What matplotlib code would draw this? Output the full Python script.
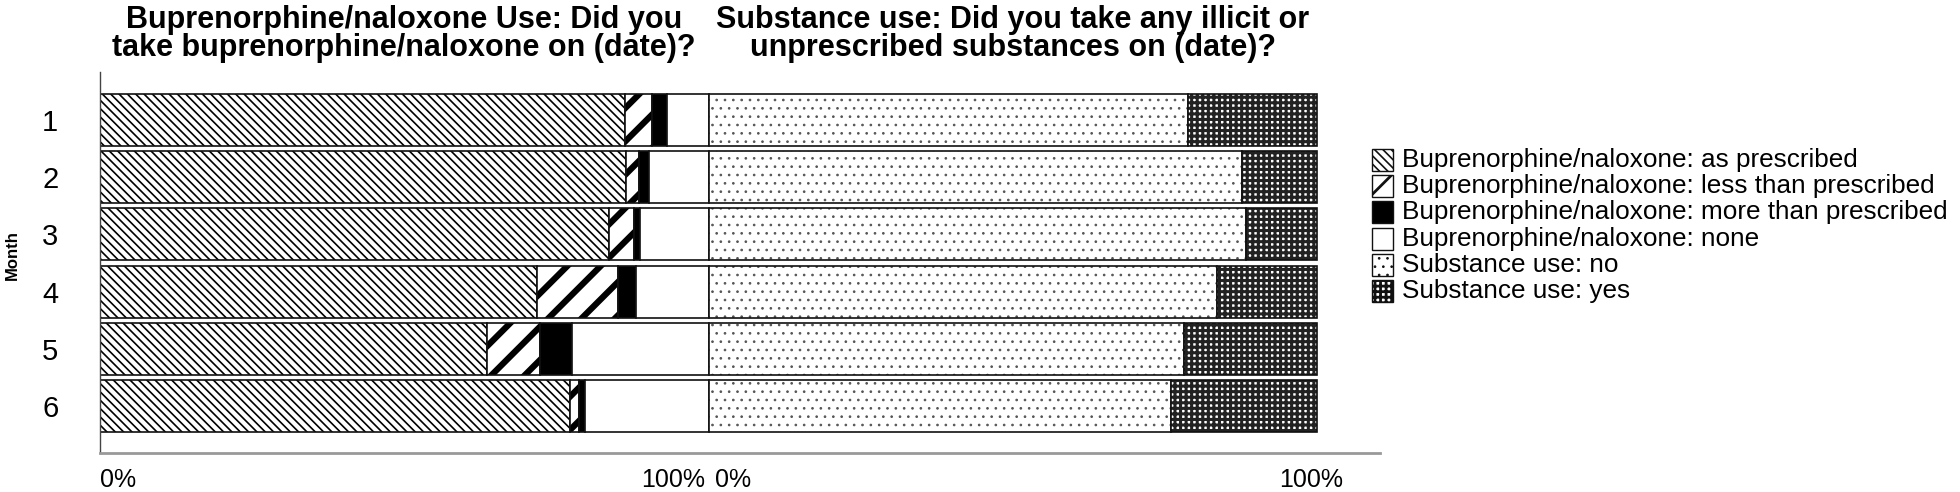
"""Stacked horizontal bars: buprenorphine/naloxone use and substance use by month."""

import matplotlib

matplotlib.use("Agg")
import matplotlib.pyplot as plt
import numpy as np
from matplotlib.patches import Rectangle
from matplotlib.transforms import blended_transform_factory

months = ["1", "2", "3", "4", "5", "6"]

# buprenorphine/naloxone use, % of answers per month
bup_as_prescribed = [86.3, 86.5, 83.6, 71.8, 63.6, 77.2]
bup_less = [4.4, 2.0, 4.2, 13.3, 8.7, 1.5]
bup_more = [2.5, 1.7, 0.9, 3.0, 5.2, 1.0]
bup_none = [6.8, 9.8, 11.3, 11.9, 22.5, 20.3]

# illicit / unprescribed substance use, % of answers per month
sub_no = [78.8, 87.7, 88.3, 83.6, 78.2, 76.0]
sub_yes = [21.2, 12.3, 11.7, 16.4, 21.8, 24.0]

bup_labels = [
    "Buprenorphine/naloxone: as prescribed",
    "Buprenorphine/naloxone: less than prescribed",
    "Buprenorphine/naloxone: more than prescribed",
    "Buprenorphine/naloxone: none",
]
sub_labels = ["Substance use: no", "Substance use: yes"]

titles = [
    "Buprenorphine/naloxone Use: Did you\ntake buprenorphine/naloxone on (date)?",
    "Substance use: Did you take any illicit or\nunprescribed substances on (date)?",
]

# (facecolor, hatch, hatch colour, hatch linewidth)
styles = [
    ("white", "\\\\\\\\", "black", 1.2),
    ("white", "/", "black", 4.5),
    ("black", "", "black", 1.0),
    ("white", "", "black", 1.0),
    ("white", "..", "#555555", 0.7),
    ("white", "+++", "#222222", 2.2),
]

plt.rcParams["font.family"] = ["Liberation Sans", "DejaVu Sans"]

W, H = 1960, 492
fig = plt.figure(figsize=(W / 100, H / 100), dpi=100)
ax = fig.add_axes([100 / W, 1 - 453 / H, 1280 / W, 381 / H])

y = np.arange(1, len(months) + 1)
bar_h = 0.91


def add_patch_hatch(patch, hlw):
    if hasattr(patch, "set_hatch_linewidth"):
        patch.set_hatch_linewidth(hlw)


def draw_stack(series, style_list, start):
    left = np.full(len(months), start, dtype=float)
    for values, (fc, hatch, hc, hlw) in zip(series, style_list):
        w = np.asarray(values) / 100.0
        with plt.rc_context({"hatch.linewidth": hlw, "hatch.color": hc}):
            bars = ax.barh(y, w, left=left, height=bar_h, color=fc,
                           edgecolor=hc, linewidth=0, hatch=hatch or None)
            for b in bars:
                add_patch_hatch(b, hlw)
        ax.barh(y, w, left=left, height=bar_h, fill=False,
                edgecolor="#111111", linewidth=1.2)
        left += w


draw_stack([bup_as_prescribed, bup_less, bup_more, bup_none], styles[:4], 0.0)
draw_stack([sub_no, sub_yes], styles[4:], 1.0)

ax.set_xlim(0, 1280 / 608.5)
ax.set_ylim(6.82, 0.16)
ax.set_yticks(y, months)
ax.tick_params(axis="y", length=0, pad=30, labelsize=21)
ax.set_xticks([])
for side in ("top", "right"):
    ax.spines[side].set_visible(False)
ax.spines["left"].set_color("#444444")
ax.spines["left"].set_linewidth(1.0)
ax.spines["bottom"].set_color("#999999")
ax.spines["bottom"].set_linewidth(2.0)

trans = blended_transform_factory(ax.transData, ax.transAxes)
ax.text(0.0, -0.07, "0%", transform=trans, ha="left", va="center", fontsize=18)
ax.text(0.995, -0.07, "100%", transform=trans, ha="right", va="center", fontsize=18)
ax.text(1.01, -0.07, "0%", transform=trans, ha="left", va="center", fontsize=18)
ax.text(1.99, -0.07, "100%", transform=trans, ha="center", va="center", fontsize=18)

fig.text(12 / W, 1 - 255 / H, "Month", rotation=90, ha="center", va="center",
         fontsize=12, fontweight="bold")

for xc, title in zip([0.5, 1.5], titles):
    fig.text((100 + xc * 608.5) / W, 1 - 5 / H, title, ha="center", va="top",
             fontsize=22, fontweight="bold", linespacing=0.9)

# legend, laid out row by row
row_y = [160, 186, 212, 239, 265, 291]
for label, (fc, hatch, hc, hlw), ry in zip(bup_labels + sub_labels, styles, row_y):
    with plt.rc_context({"hatch.linewidth": min(hlw, 2.0), "hatch.color": "black"}):
        box = Rectangle((1372 / W, 1 - (ry + 11) / H), 21 / W, 22 / H,
                        transform=fig.transFigure, facecolor=fc,
                        edgecolor="#111111", linewidth=1.0, hatch=hatch or None)
        add_patch_hatch(box, min(hlw, 2.0))
    fig.add_artist(box)
    fig.text(1402 / W, 1 - ry / H, label, ha="left", va="center", fontsize=18.8)

fig.savefig("out.png", dpi=100)
plt.close(fig)
